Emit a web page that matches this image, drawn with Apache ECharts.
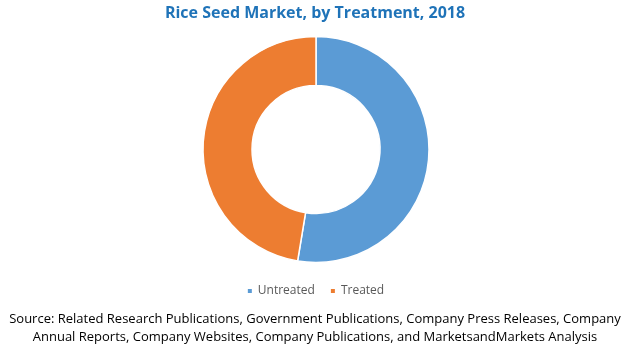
<!DOCTYPE html>
<html>
<head>
<meta charset="utf-8">
<script src="https://cdn.jsdelivr.net/npm/echarts@6/dist/echarts.min.js"></script>
<style>
  html, body { margin: 0; padding: 0; background: #fff; }
  #main { width: 630px; height: 351px; }
</style>
</head>
<body>
<div id="main"></div>
<script>
// data
const categories = ['Untreated', 'Treated']
const shares = [52.6, 47.4]
const colors = ['#5B9BD5', '#ED7D31']

const sourceLines = [
  'Source: Related Research Publications, Government Publications, Company Press Releases, Company',
  'Annual Reports, Company Websites, Company Publications, and MarketsandMarkets Analysis'
]

const chart = echarts.init(document.getElementById('main'))

chart.setOption({
  animation: false,
  title: {
    text: 'Rice Seed Market, by Treatment, 2018',
    left: 'center',
    top: 0,
    textStyle: { fontFamily: 'Open Sans', fontWeight: 'bold', fontSize: 16, color: '#1F73B8' }
  },
  legend: {
    data: categories,
    left: 'center',
    top: 280,
    icon: 'rect',
    itemWidth: 6,
    itemHeight: 6,
    itemGap: 14,
    textStyle: { fontFamily: 'Open Sans', fontSize: 12, color: '#595959' }
  },
  series: [{
    type: 'pie',
    center: [316, 149.5],
    radius: [64, 113],
    startAngle: 90,
    clockwise: true,
    label: { show: false },
    labelLine: { show: false },
    itemStyle: { borderColor: '#fff', borderWidth: 1.5 },
    emphasis: { disabled: true },
    data: categories.map((c, i) => ({ name: c, value: shares[i], itemStyle: { color: colors[i] } }))
  }],
  graphic: sourceLines.map((t, i) => ({
    type: 'text',
    left: 'center',
    top: 313 + i * 18,
    style: { text: t, fontFamily: 'Open Sans', fontSize: 13, fill: '#000' }
  }))
})
</script>
</body>
</html>
